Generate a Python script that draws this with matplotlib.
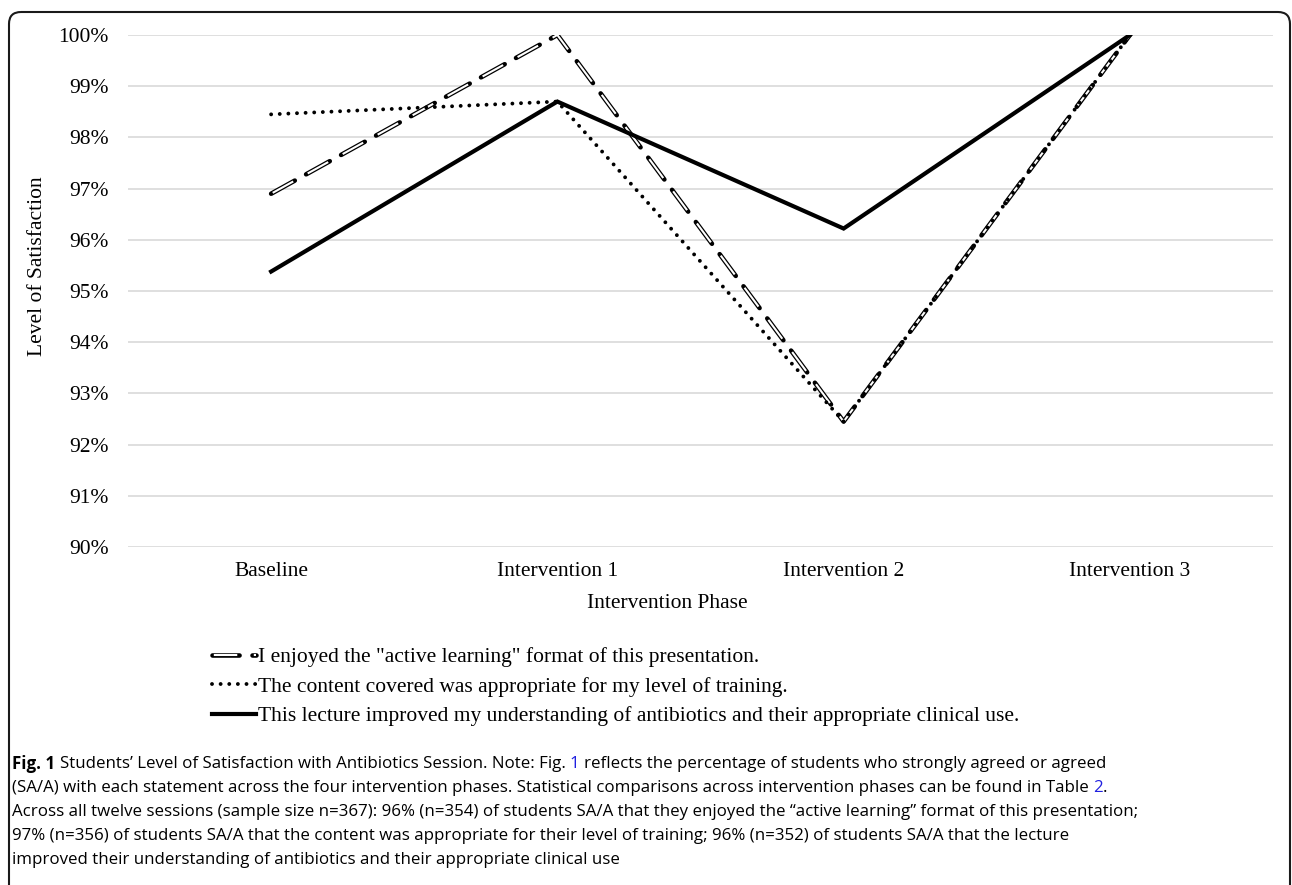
import matplotlib
matplotlib.use("Agg")
import matplotlib.pyplot as plt
from matplotlib.patches import FancyBboxPatch

plt.rcParams['lines.scale_dashes'] = False
plt.rcParams['font.family'] = ['Liberation Serif', 'DejaVu Serif']

# data (percent SA/A)
phases = ["Baseline", "Intervention 1", "Intervention 2", "Intervention 3"]
active_learning = [96.9, 100.0, 92.45, 100.0]
content_level = [98.45, 98.7, 92.45, 100.0]
understanding = [95.38, 98.7, 96.22, 100.0]
series_labels = [
    'I enjoyed the "active learning" format of this presentation.',
    'The content covered was appropriate for my level of training.',
    'This lecture improved my understanding of antibiotics and their appropriate clinical use.',
]
y_ticks = list(range(90, 101))

W, H = 1292, 885
fig = plt.figure(figsize=(W / 100, H / 100), dpi=100)
ax = fig.add_axes([128 / W, 1 - 547 / H, (1273 - 128) / W, (547 - 35) / H])

x = range(len(phases))
dash = (0, (19.5, 9.3))
dash_in = (-1.3, (16.9, 11.9))
# hollow dashed line: thick black dash with a white core
l1a, = ax.plot(x, active_learning, color='black', lw=3.3, linestyle=dash,
               dash_capstyle='round', zorder=3)
l1b, = ax.plot(x, active_learning, color='white', lw=1.5, linestyle=dash_in,
               dash_capstyle='butt', zorder=3.1)
l2, = ax.plot(x, content_level, color='black', lw=2.8, linestyle=(0, (0.01, 6.2)),
              dash_capstyle='round', zorder=3.2)
l3, = ax.plot(x, understanding, color='black', lw=3.0, solid_joinstyle='miter',
              zorder=3.3)

ax.set_xlim(-0.5, 3.5)
ax.set_ylim(90, 100)
ax.set_yticks(y_ticks)
ax.set_yticklabels([f"{v}%" for v in y_ticks])
ax.set_xticks(list(x))
ax.set_xticklabels(phases)
ax.tick_params(axis='both', length=0, labelsize=15.5)
ax.tick_params(axis='y', pad=14)
ax.tick_params(axis='x', pad=11)
ax.grid(axis='y', color='#d9d9d9', lw=1.2)
ax.set_axisbelow(True)
for s in ax.spines.values():
    s.set_visible(False)
ax.set_xlabel("Intervention Phase", fontsize=15.5)
ax.xaxis.set_label_coords((667 - 128) / 1145, -(594 - 547) / 512)

# pixel overlay for frame, y label, legend and caption
ov = fig.add_axes([0, 0, 1, 1], zorder=5)
ov.set_xlim(0, W)
ov.set_ylim(H, 0)
ov.axis('off')

ov.add_patch(FancyBboxPatch((9, 12), W - 11, 950,
                            boxstyle="round,pad=0,rounding_size=12",
                            fill=False, edgecolor='#1a1a1a', lw=1.5))

ov.text(38, 266, "Level of Satisfaction", rotation=90, fontsize=15.5,
        ha='center', va='center')

handles = [(l1a, l1b), l2, l3]
ov.legend(handles, series_labels, loc='upper left',
          bbox_to_anchor=(212, 647), bbox_transform=ov.transData,
          frameon=False, fontsize=15.5, handlelength=2.05, handletextpad=0.1,
          labelspacing=0.44, borderpad=0, borderaxespad=0)

# caption with mixed styles
cap_font = ['Open Sans', 'DejaVu Sans']
cap_size = 12.2
blue = '#2020e0'
cap_lines = [
    [("Fig. 1", 'bold', 'black'),
     (" Students\u2019 Level of Satisfaction with Antibiotics Session. Note: Fig.", 'normal', 'black'),
     (" 1", 'normal', blue),
     (" reflects the percentage of students who strongly agreed or agreed", 'normal', 'black')],
    [("(SA/A) with each statement across the four intervention phases. Statistical comparisons across intervention phases can be found in Table", 'normal', 'black'),
     (" 2", 'normal', blue),
     (".", 'normal', 'black')],
    [("Across all twelve sessions (sample size n=367): 96% (n=354) of students SA/A that they enjoyed the \u201cactive learning\u201d format of this presentation;", 'normal', 'black')],
    [("97% (n=356) of students SA/A that the content was appropriate for their level of training; 96% (n=352) of students SA/A that the lecture", 'normal', 'black')],
    [("improved their understanding of antibiotics and their appropriate clinical use", 'normal', 'black')],
]
cap_y = [764, 788, 812, 836, 860]

fig.canvas.draw()
r = fig.canvas.get_renderer()


def width_of(s, weight):
    t = ov.text(0, 0, s, fontsize=cap_size, family=cap_font, fontweight=weight)
    w = t.get_window_extent(r).width
    t.remove()
    return w


space_w = width_of("a a", 'normal') - width_of("aa", 'normal')
for line, y in zip(cap_lines, cap_y):
    xc = 12
    for s, weight, col in line:
        if s.startswith(" "):
            xc += space_w
            s = s[1:]
        t = ov.text(xc, y, s, fontsize=cap_size, family=cap_font,
                    fontweight=weight, color=col, va='center', ha='left')
        xc += t.get_window_extent(r).width

fig.savefig("out.png", dpi=100)
